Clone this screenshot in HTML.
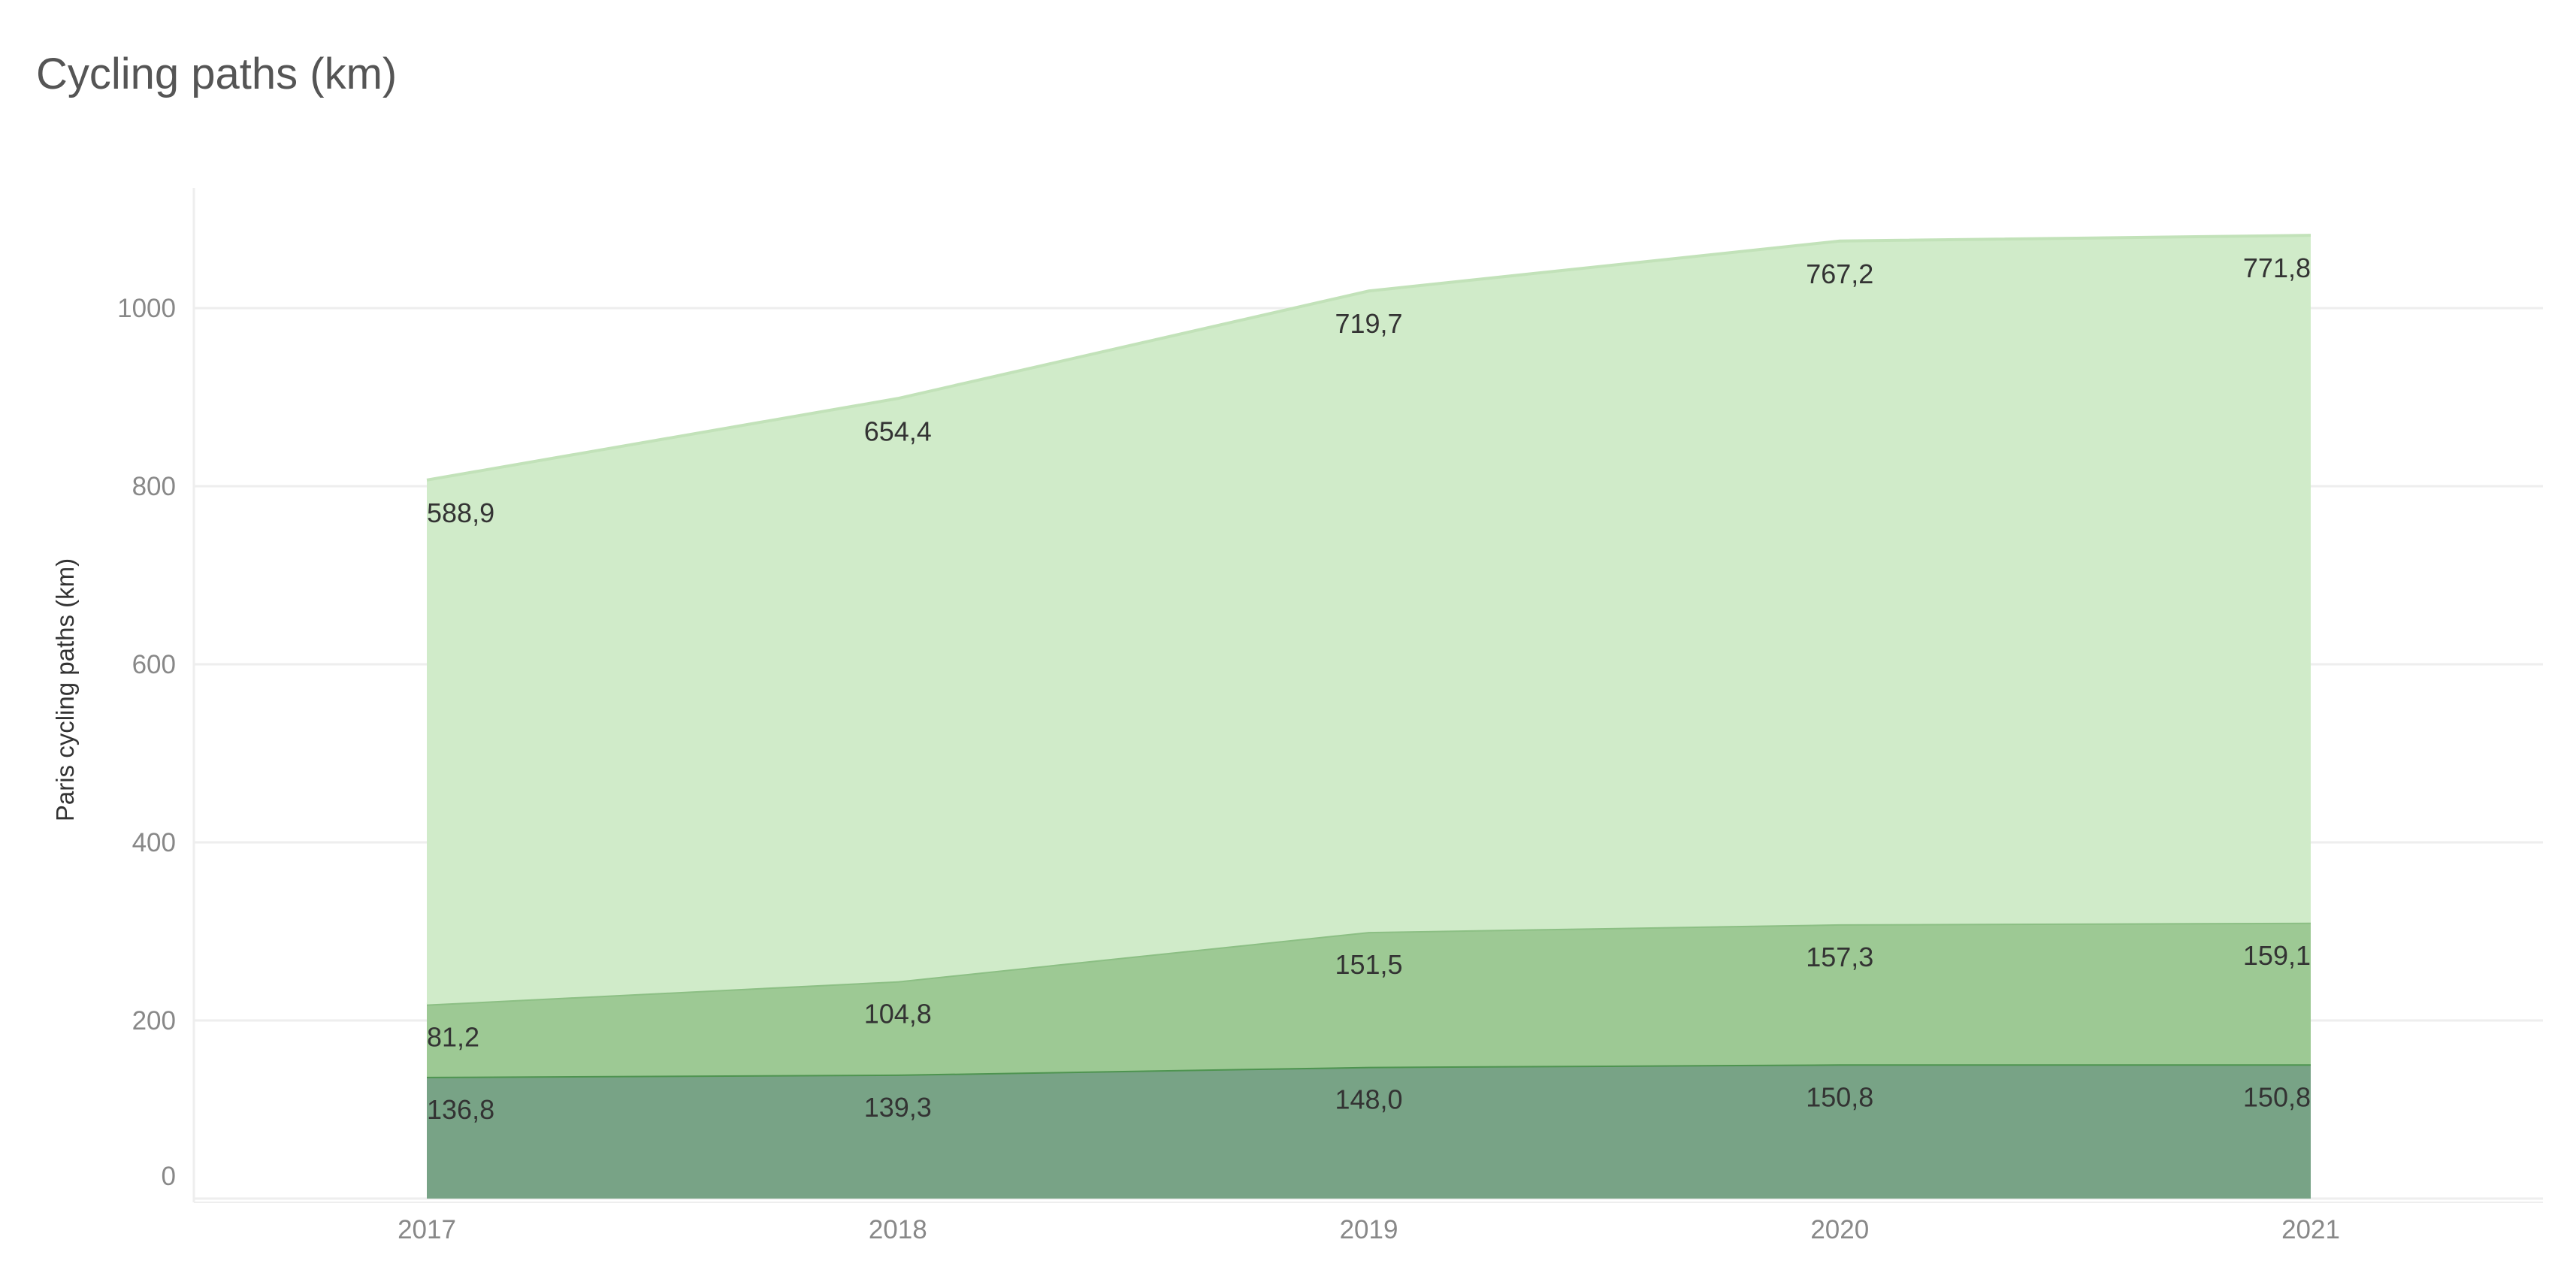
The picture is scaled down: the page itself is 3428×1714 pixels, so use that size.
<!DOCTYPE html>
<html><head><meta charset="utf-8"><style>
body{margin:0;background:#fff;width:3428px;height:1709px;overflow:hidden;font-family:"Liberation Sans",sans-serif}
</style></head><body>
<svg id="chart" width="3428" height="1709" xmlns="http://www.w3.org/2000/svg">
<text x="48" y="118" font-size="58" fill="#555">Cycling paths (km)</text>
<text transform="translate(98,918) rotate(-90)" text-anchor="middle" font-size="33" fill="#333" font-family="Liberation Sans Narrow, Liberation Sans, sans-serif">Paris cycling paths (km)</text>
<g id="grid"></g><g id="areas"></g><g id="labels"></g><g id="axes"></g>
</svg>
<script>
const years = ["2017","2018","2019","2020","2021"];
const bottomSeries = [136.8,139.3,148.0,150.8,150.8];
const middleSeries = [81.2,104.8,151.5,157.3,159.1];
const topSeries = [588.9,654.4,719.7,767.2,771.8];
const yTicks = [0,200,400,600,800,1000];
const NS="http://www.w3.org/2000/svg";
const x0=568,x1=3075,y0=1595,y1000=410;
const xs=i=>x0+(x1-x0)*i/(years.length-1);
const ys=v=>y0-(y0-y1000)*v/1000;
function mk(tag,attrs,parent){const e=document.createElementNS(NS,tag);for(const k in attrs)e.setAttribute(k,attrs[k]);parent.appendChild(e);return e;}
const grid=document.getElementById('grid'),areas=document.getElementById('areas'),labels=document.getElementById('labels'),axes=document.getElementById('axes');
yTicks.forEach(t=>{
  const l=mk('line',{x1:258,x2:3384,y1:ys(t),y2:ys(t),stroke:'#eeeeee','stroke-width':3},grid);
  
  
  const off=t===0?-18:12;
  const tx=mk('text',{x:234,y:ys(t)+off,'text-anchor':'end','font-size':35,fill:'#888'},axes);
  tx.textContent=t;
  
  
});
const ax=mk('line',{x1:258,x2:258,y1:250,y2:1600,stroke:'#eeeeee','stroke-width':3},axes);


const xb=mk('line',{x1:258,x2:3384,y1:1600,y2:1600,stroke:'#eeeeee','stroke-width':2},axes);


years.forEach((y,i)=>{
  const t=mk('text',{x:xs(i),y:1648,'text-anchor':'middle','font-size':35,fill:'#888'},axes);
  t.textContent=y;
  
  
});
const layers=[
 {name:'bottom',vals:bottomSeries,fill:'#78a386',stroke:'#4e9450'},
 {name:'middle',vals:middleSeries,fill:'#9dc994',stroke:'#8cbf84'},
 {name:'top',vals:topSeries,fill:'#d0ebc9',stroke:'#c2e2b9'}];
let base=years.map(()=>0);
layers.forEach(L=>{
  const tops=base.map((b,i)=>b+L.vals[i]);
  let d='M'+xs(0)+','+ys(tops[0]);
  for(let i=1;i<years.length;i++)d+=' L'+xs(i)+','+ys(tops[i]);
  for(let i=years.length-1;i>=0;i--)d+=' L'+xs(i)+','+ys(base[i]);
  d+='Z';
  const p=mk('path',{d:d,fill:L.fill},areas);
  
  
  let ld='M'+xs(0)+','+ys(tops[0]);
  for(let i=1;i<years.length;i++)ld+=' L'+xs(i)+','+ys(tops[i]);
  const ln=mk('path',{d:ld,fill:'none',stroke:L.stroke,'stroke-width':4},areas);
  
  
  L.vals.forEach((v,i)=>{
    const anchor=i===0?'start':(i===years.length-1?'end':'middle');
    const t=mk('text',{x:xs(i),y:ys(tops[i])+56,'text-anchor':anchor,'font-size':36,fill:'#333'},labels);
    t.textContent=v.toFixed(1).replace('.',',');
    
    
  });
  base=tops;
});
</script>
</body></html>
